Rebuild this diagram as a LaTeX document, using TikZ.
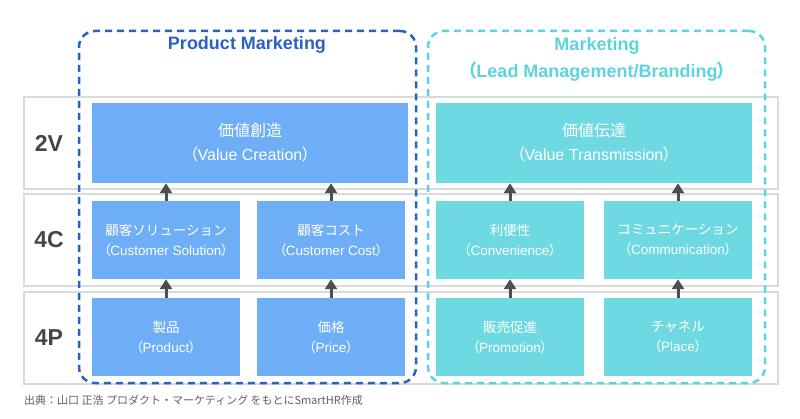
\documentclass[tikz,border=0pt]{standalone}
\usepackage{fontspec}
\setmainfont{Liberation Sans}
\newfontfamily\jafont{Noto Sans CJK JP}
\usetikzlibrary{arrows.meta,positioning,fit,backgrounds}
\definecolor{pmblue}{HTML}{2A62C2}
\definecolor{mkcyan}{HTML}{5DD3DE}
\definecolor{pmfill}{HTML}{6EAEF6}
\definecolor{mkfill}{HTML}{6FD9E2}
\definecolor{bandgray}{HTML}{DADADA}
\definecolor{arrowgray}{HTML}{4B4E53}
\definecolor{lblgray}{HTML}{454545}
\newcommand{\jp}[1]{{\jafont #1}}
\newcommand{\enparen}[1]{{\jafont （}\kern-0.04em#1\kern-0.04em{\jafont ）}}
\tikzset{
  band/.style={
    draw=bandgray,
    line width=2pt,
    minimum width=754pt,
    minimum height=92pt,
    inner sep=0pt
  },
  bigbox/.style={minimum width=316pt, minimum height=80pt, inner sep=0pt, text=white,
    font=\fontsize{16}{24}\selectfont, align=center},
  smallbox/.style={minimum width=148pt, minimum height=78pt, inner sep=0pt, text=white,
    font=\fontsize{13.5}{20}\selectfont, align=center},
  rowlbl/.style={font=\fontsize{23}{23}\selectfont\bfseries, text=lblgray, inner sep=0pt},
  uparrow/.style={draw=arrowgray, line width=3pt, -{Triangle[width=12pt,length=10pt]}},
  grpframe/.style={line width=2.5pt, dash pattern=on 7pt off 5pt, rounded corners=16pt,
    minimum width=337pt, minimum height=352pt, inner sep=0pt},
  grpttl/.style={font=\fontsize{18}{27}\selectfont\bfseries, align=center, inner sep=0pt},
  srcnote/.style={font=\fontsize{11}{11}\selectfont\jafont, text=lblgray!85, inner sep=0pt, anchor=west}
}

\begin{document}
\begin{tikzpicture}[x=1pt,y=-1pt]
  \useasboundingbox (0,0) rectangle (800,419);
  % rows
  \foreach \r/\cy in {2V/143,4C/240,4P/338} {
    \node[band] (band\r) at (401,\cy) {};
    \node[rowlbl] (lbl\r) at (49,\cy) {\r};
  }
  \node[bigbox, fill=pmfill] (valcre) at (250,143) {\jp{価値創造}\\\enparen{Value Creation}};
  \node[bigbox, fill=mkfill] (valtra) at (594,143) {\jp{価値伝達}\\\enparen{Value Transmission}};
  \foreach \nm/\cx/\cy/\fc/\ja/\en in {
      csol/166/240/pmfill/顧客ソリューション/Customer Solution,
      ccost/331/240/pmfill/顧客コスト/Customer Cost,
      conv/510/240/mkfill/利便性/Convenience,
      comm/678/240/mkfill/コミュニケーション/Communication,
      prod/166/337/pmfill/製品/Product,
      price/331/337/pmfill/価格/Price,
      promo/510/337/mkfill/販売促進/Promotion,
      place/678/337/mkfill/チャネル/Place} {
    \node[smallbox, fill=\fc] (\nm) at (\cx,\cy) {\jp{\ja}\\\enparen{\en}};
  }
  % groups
  \node[grpframe, draw=pmblue] (pmframe) at (247.5,207) {};
  \node[grpframe, draw=mkcyan] (mkframe) at (596.5,207) {};
  \node[grpttl, text=pmblue] (pmttl) at (247,45) {Product Marketing};
  \node[grpttl, text=mkcyan, anchor=north] (mkttl) at (597,37) {Marketing\\\enparen{Lead Management/Branding}};
  \foreach \lo/\hi in {prod/csol,price/ccost,promo/conv,place/comm,csol/valcre,ccost/valcre,conv/valtra,comm/valtra}
    \draw[uparrow] (\lo.north) -- (\lo.north |- \hi.south);
  \node[srcnote] (src) at (24,400) {出典：山口 正浩 プロダクト・マーケティング をもとにSmartHR作成};
\end{tikzpicture}
\end{document}
